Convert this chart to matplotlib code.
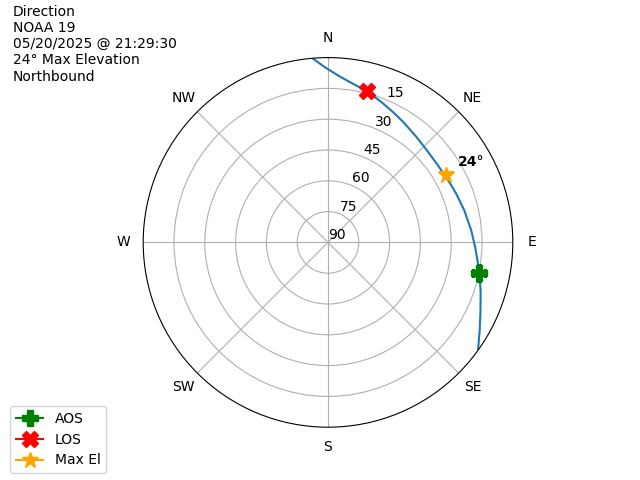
import numpy as np
import matplotlib
matplotlib.use("Agg")
import matplotlib.pyplot as plt

# Pass track (time order: AOS side -> LOS side), azimuth deg, elevation deg
track_az = [125.3, 120.1, 114.0, 107.4, 101.5, 98.1, 91.8, 85.2, 76.9, 69.3, 64.6,
            54.7, 47.0, 40.1, 31.9, 26.6, 20.9, 14.3, 8.5, 3.5, -1.0, -4.6]
track_el = [0.4, 4.6, 8.7, 12.1, 14.9, 16.2, 18.3, 20.0, 21.8, 23.2, 23.9,
            24.6, 24.2, 23.0, 20.8, 19.1, 16.9, 13.9, 11.6, 8.6, 4.7, 0.3]

aos_az, aos_el = 101.5, 14.9
los_az, los_el = 14.3, 13.7
max_az, max_el = 60.4, 24.0

r_ticks = [15, 30, 45, 60, 75, 90]
r_tick_labels = ["15", "30", "45", "60", "75", "90"]
dir_labels = ["N", "NE", "E", "SE", "S", "SW", "W", "NW"]
info_text = "Direction\nNOAA 19\n05/20/2025 @ 21:29:30\n24\u00b0 Max Elevation\nNorthbound"

fig = plt.figure(figsize=(6.4, 4.8), dpi=100)
ax = fig.add_subplot(111, projection="polar")
ax.set_theta_zero_location("N")
ax.set_theta_direction(-1)

ax.plot(np.radians(track_az), track_el, color="C0", linewidth=1.5)
ax.plot(np.radians(aos_az), aos_el, marker="P", color="green", markersize=12, label="AOS")
ax.plot(np.radians(los_az), los_el, marker="X", color="red", markersize=12, label="LOS")
ax.plot(np.radians(max_az), max_el, marker="*", color="orange", markersize=12, label="Max El")
ax.annotate("24\u00b0", (np.radians(max_az), max_el), xytext=(9, 5), textcoords="offset points",
            fontweight="bold", fontsize=10, ha="left", va="bottom")

ax.set_rlim(90, 0)
ax.set_rticks(r_ticks)
ax.set_yticklabels(r_tick_labels)
ax.set_thetagrids(np.arange(0, 360, 45), dir_labels)

fig.text(0.02, 0.99, info_text, ha="left", va="top", fontsize=10)
fig.legend(loc="lower left", bbox_to_anchor=(0.005, 0.0))

fig.savefig("out.png", dpi=100)
